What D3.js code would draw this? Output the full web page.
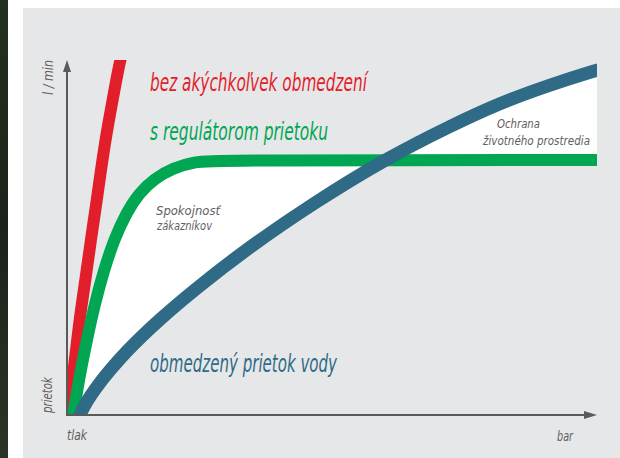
<!DOCTYPE html>
<html>
<head>
<meta charset="utf-8">
<script src="https://cdn.jsdelivr.net/npm/d3@7"></script>
<style>
body { margin: 0; background: #fff; }
svg { display: block; }
text { font-family: "Liberation Sans Narrow", "DejaVu Sans Condensed", "Roboto Condensed", sans-serif; font-style: italic; }
</style>
</head>
<body>
<script>
const width = 620, height = 458;

// flow (l/min) against pressure (bar), both in % of the drawn axes
const unlimited = [[0.3,-3],[0.4,0],[0.9,8.5],[1.7,18.3],[2.6,29.6],[3.6,39.4],[4.5,49.3],[5.5,59.2],[6.4,69.0],[7.4,78.9],[8.6,88.7],[10.0,100],[10.8,104]];
const regulated = [[1.0,-3],[1.1,0],[1.5,3.0],[2.5,12.0],[3.8,21.5],[5.2,31.0],[6.9,40.5],[8.9,49.5],[11.2,57.0],[13.6,62.5],[16.5,66.6],[20.0,69.6],[24.0,71.3],[28.0,71.8],[100,71.8],[101,71.8]];
const restricted = [[1.7,-3],[2.3,0],[4.9,7.0],[11.3,18.3],[17.5,27.0],[23.8,35.0],[33.6,46.5],[46.8,60.0],[60.4,72.4],[72.3,81.4],[81.7,87.9],[91.1,93.0],[100,97.2],[101,97.5]];

const seriesLabels = ['bez akýchkoľvek obmedzení', 's regulátorom prietoku', 'obmedzený prietok vody'];
const areaLabels = [['Spokojnosť', 'zákazníkov'], ['Ochrana', 'životného prostredia']];
const axisLabels = { y: 'l / min', yLow: 'prietok', x: 'tlak', xHigh: 'bar' };

const colors = { red: '#e31e2b', green: '#00a651', blue: '#2f6a86', axis: '#5a5a5a', text: '#5e5e5e' };

const svg = d3.select('body').append('svg')
  .attr('width', width)
  .attr('height', height);

const defs = svg.append('defs');
const grad = defs.append('linearGradient').attr('id', 'edge').attr('x1', 0).attr('y1', 0).attr('x2', 0).attr('y2', 1);
grad.append('stop').attr('offset', '0%').attr('stop-color', '#243022');
grad.append('stop').attr('offset', '50%').attr('stop-color', '#1a2418');
grad.append('stop').attr('offset', '100%').attr('stop-color', '#2b3427');

svg.append('rect').attr('width', width).attr('height', height).attr('fill', '#ffffff');
svg.append('rect').attr('width', 8).attr('height', height).attr('fill', 'url(#edge)');
svg.append('rect').attr('x', 23).attr('y', 8).attr('width', width - 23).attr('height', height - 8).attr('fill', '#e6e7e9');

const x = d3.scaleLinear().domain([0, 100]).range([67, 597]);
const y = d3.scaleLinear().domain([0, 100]).range([415, 60]);

defs.append('clipPath').attr('id', 'plot')
  .append('rect')
  .attr('x', x(0)).attr('y', y(100))
  .attr('width', x(100) - x(0)).attr('height', y(0) - y(100));

const line = d3.line().x(d => x(d[0])).y(d => y(d[1])).curve(d3.curveBasis);
const area = d3.area().x(d => x(d[0])).y0(y(0)).y1(d => y(d[1])).curve(d3.curveBasis);

const plot = svg.append('g').attr('clip-path', 'url(#plot)');

// white band between regulated and restricted curves
plot.append('path')
  .attr('d', area(regulated) + area(restricted))
  .attr('fill', '#ffffff')
  .attr('fill-rule', 'evenodd');

plot.append('path').attr('d', line(unlimited)).attr('fill', 'none').attr('stroke', colors.red).attr('stroke-width', 12);
plot.append('path').attr('d', line(regulated)).attr('fill', 'none').attr('stroke', colors.green).attr('stroke-width', 12);
plot.append('path').attr('d', line(restricted)).attr('fill', 'none').attr('stroke', colors.blue).attr('stroke-width', 13);

// axes
const axes = svg.append('g').attr('fill', colors.axis).attr('stroke', colors.axis);
axes.append('line').attr('x1', x(0)).attr('y1', y(0)).attr('x2', x(0)).attr('y2', y(100) + 10).attr('stroke-width', 2);
axes.append('line').attr('x1', x(0) - 1).attr('y1', y(0)).attr('x2', x(100) - 10).attr('y2', y(0)).attr('stroke-width', 2);
axes.append('path').attr('stroke', 'none')
  .attr('d', `M${x(0)},${y(100)} L${x(0) + 4},${y(100) + 12} L${x(0) - 4},${y(100) + 12} Z`);
axes.append('path').attr('stroke', 'none')
  .attr('d', `M${x(100)},${y(0)} L${x(100) - 13},${y(0) - 4} L${x(100) - 13},${y(0) + 4} Z`);

// series labels
const big = [
  { t: seriesLabels[0], x: 150, y: 91, w: 217, c: colors.red },
  { t: seriesLabels[1], x: 150, y: 140, w: 178, c: colors.green },
  { t: seriesLabels[2], x: 150, y: 372, w: 187, c: colors.blue }
];
svg.selectAll('text.series')
  .data(big)
  .enter()
  .append('text')
  .attr('class', 'series')
  .attr('x', d => d.x)
  .attr('y', d => d.y)
  .attr('fill', d => d.c)
  .attr('font-size', 25)
  .attr('textLength', d => d.w)
  .attr('lengthAdjust', 'spacingAndGlyphs')
  .text(d => d.t);

// area notes
const notes = [
  { t: areaLabels[0][0], x: 156, y: 215, w: 64 },
  { t: areaLabels[0][1], x: 157, y: 230, w: 55 },
  { t: areaLabels[1][0], x: 497, y: 128, w: 43 },
  { t: areaLabels[1][1], x: 483, y: 145, w: 107 }
];
svg.selectAll('text.note')
  .data(notes)
  .enter()
  .append('text')
  .attr('class', 'note')
  .attr('x', d => d.x)
  .attr('y', d => d.y)
  .attr('fill', colors.text)
  .attr('font-size', 13)
  .attr('textLength', d => d.w)
  .attr('lengthAdjust', 'spacingAndGlyphs')
  .text(d => d.t);

// axis titles
svg.append('text')
  .attr('transform', 'translate(53,95) rotate(-90)')
  .attr('fill', colors.text).attr('font-size', 14)
  .attr('textLength', 35).attr('lengthAdjust', 'spacingAndGlyphs')
  .text(axisLabels.y);
svg.append('text')
  .attr('transform', 'translate(52,413) rotate(-90)')
  .attr('fill', colors.text).attr('font-size', 14)
  .attr('textLength', 36).attr('lengthAdjust', 'spacingAndGlyphs')
  .text(axisLabels.yLow);
svg.append('text')
  .attr('x', 67).attr('y', 440)
  .attr('fill', colors.text).attr('font-size', 14)
  .attr('textLength', 20).attr('lengthAdjust', 'spacingAndGlyphs')
  .text(axisLabels.x);
svg.append('text')
  .attr('x', 557).attr('y', 441)
  .attr('fill', colors.text).attr('font-size', 14)
  .attr('textLength', 16).attr('lengthAdjust', 'spacingAndGlyphs')
  .text(axisLabels.xHigh);
</script>
</body>
</html>
